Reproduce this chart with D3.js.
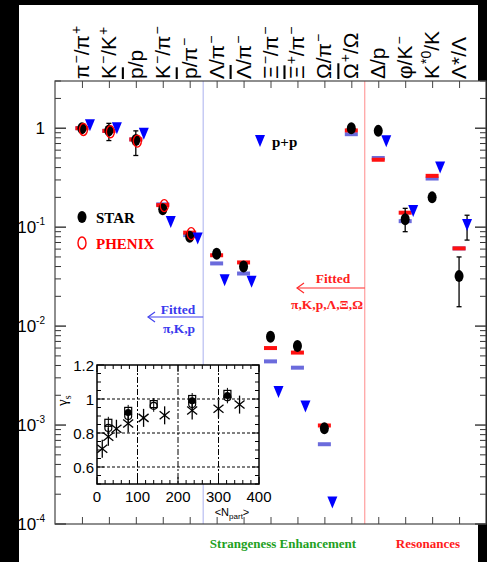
<!DOCTYPE html>
<html><head><meta charset="utf-8">
<script src="https://cdn.jsdelivr.net/npm/d3@7"></script>
<style>body{margin:0;background:#000;overflow:hidden} svg{display:block}</style>
</head><body><svg id="c" width="487" height="562"></svg>
<script>
// ---------- data ----------
const categories = ["π⁻/π⁺","K⁻/K⁺","p̄/p","K⁻/π⁻","p̄/π⁻","Λ/π⁻","Λ̄/π⁻","Ξ⁻/π⁻","Ξ̄⁺/π⁻","Ω/π⁻","Ω̄⁺/Ω","Δ/p","φ/K⁻","K*⁰/K","Λ*/Λ"];
// label pieces: [text, kind]  kind: n = normal, s = superscript, b = overlined
const labelParts = [
  [["π","n"],["−","s"],["/π","n"],["+","s"]],
  [["K","n"],["−","s"],["/K","n"],["+","s"]],
  [["p","b"],["/p","n"]],
  [["K","n"],["−","s"],["/π","n"],["−","s"]],
  [["p","b"],["/π","n"],["−","s"]],
  [["Λ","n"],["/π","n"],["−","s"]],
  [["Λ","b"],["/π","n"],["−","s"]],
  [["Ξ","n"],["−","s"],["/π","n"],["−","s"]],
  [["Ξ","b"],["+","s"],["/π","n"],["−","s"]],
  [["Ω","n"],["/π","n"],["−","s"]],
  [["Ω","b"],["+","s"],["/Ω","n"]],
  [["Δ/p","n"]],
  [["φ/K","n"],["−","s"]],
  [["K","n"],["*0","s"],["/K","n"]],
  [["Λ*/Λ","n"]]
];
const starValues  = [1.0, 0.95, 0.76, 0.152, 0.080, 0.054, 0.040, 0.0078, 0.0063, 0.00093, 1.0, 0.94, 0.12, 0.20, 0.032];
const starErrLow  = [null, 0.75, 0.53, null, null, null, null, null, null, null, null, null, 0.09, null, 0.0157];
const starErrHigh = [null, 1.12, 0.94, null, null, null, null, null, null, null, null, null, 0.155, null, 0.05];
const phenixValues = [0.97, 0.92, 0.74, 0.165, 0.086, null, null, null, null, null, null, null, null, null, null];
const fitAllValues = [1.0, 0.94, 0.77, 0.167, 0.088, 0.052, 0.044, 0.0060, 0.0054, 0.00099, 0.95, 0.48, 0.14, 0.33, 0.061];
const fitPiKpValues = [1.0, 0.94, 0.77, 0.17, 0.083, 0.043, 0.034, 0.0044, 0.0038, 0.00064, 0.87, 0.50, 0.115, 0.31, 0.061];
const ppValues    = [1.07, 1.0, 0.88, 0.113, 0.077, 0.029, 0.028, 0.00216, 0.00154, 0.000165, null, 0.74, 0.146, 0.40, 0.105];
const ppErrLow    = [null, null, null, null, null, null, null, null, null, null, null, null, null, null, 0.074];
const ppErrHigh   = [null, null, null, null, null, null, null, null, null, null, null, null, null, null, 0.132];
const yTickExps = [0, -1, -2, -3, -4];

// inset (gamma_s vs Npart)
const insetStarN = [13, 28, 48, 77, 115, 167, 235, 300, 352];
const insetStarG = [0.708, 0.778, 0.825, 0.856, 0.889, 0.904, 0.932, 0.943, 0.967];
const insetSquareN = [28, 77, 140, 235, 322];
const insetSquareG = [0.86, 0.93, 0.97, 1.0, 1.03];
const insetCircleN = [28, 77, 140, 235, 322];
const insetCircleG = [0.83, 0.90, 0.96, 0.97, 1.01];
const insetFilledN = [77, 235, 322];
const insetFilledG = [0.92, 0.99, 1.02];
const insetXTicks = [0, 100, 200, 300, 400];
const insetYTicks = [0.6, 0.8, 1.0, 1.2];

// ---------- drawing ----------
const svg = d3.select("#c");
svg.append("rect").attr("x",19).attr("y",5).attr("width",459).attr("height",557).attr("fill","#fff");

const L = 55, R = 486, T = 81, B = 524;
const x = d3.scaleLinear().domain([0, 16]).range([L, R]);
const y = d3.scaleLog().domain([1e-4, 3]).range([B, T]);
const cx = i => x(i + 1);

svg.append("rect").attr("x",L).attr("y",T).attr("width",R-L).attr("height",B-T).attr("fill","#fff");

// separators
svg.append("line").attr("x1",x(5.5)).attr("x2",x(5.5)).attr("y1",T).attr("y2",B).attr("stroke","#aab0ee").attr("stroke-width",1);
svg.append("line").attr("x1",x(11.5)).attr("x2",x(11.5)).attr("y1",T).attr("y2",B).attr("stroke","#ff8a8a").attr("stroke-width",1);

// axes
const minorTicks = [];
for (let e = -4; e <= 0; e++) for (let m = 1; m <= 9; m++) { const v = m * Math.pow(10, e); if (v <= 3) minorTicks.push(v); }
const gl = svg.append("g").attr("transform",`translate(${L},0)`)
  .call(d3.axisRight(y).tickValues(minorTicks).tickSize(0).tickFormat(""));
gl.select(".domain").remove();
minorTicks.forEach(v => {
  const major = Math.abs(Math.log10(v) - Math.round(Math.log10(v))) < 1e-9;
  gl.append("line").attr("x1",0).attr("x2",major?11:6).attr("y1",y(v)).attr("y2",y(v)).attr("stroke","#333").attr("stroke-width",major?1.4:1);
  svg.append("line").attr("x1",R).attr("x2",R-(major?11:6)).attr("y1",y(v)).attr("y2",y(v)).attr("stroke","#333").attr("stroke-width",major?1.4:1);
});
const catTicks = d3.range(1, 16);
svg.append("g").attr("transform",`translate(0,${B})`).call(d3.axisTop(x).tickValues(catTicks).tickSize(7).tickFormat(""))
  .call(g => g.select(".domain").remove()).selectAll("line").attr("stroke","#444");
svg.append("g").attr("transform",`translate(0,${T})`).call(d3.axisBottom(x).tickValues(catTicks).tickSize(7).tickFormat(""))
  .call(g => g.select(".domain").remove()).selectAll("line").attr("stroke","#444");
svg.append("rect").attr("x",L).attr("y",T).attr("width",R-L).attr("height",B-T).attr("fill","none").attr("stroke","#444").attr("stroke-width",1.2);

// y tick labels
yTickExps.forEach(e => {
  const t = svg.append("text").attr("x",45).attr("y",y(Math.pow(10,e))+6).attr("text-anchor","end")
    .attr("font-family","Liberation Sans, Arial, sans-serif").attr("font-size",17).attr("fill","#000");
  if (e === 0) t.text("1");
  else {
    t.append("tspan").text("10");
    t.append("tspan").attr("font-size",10).attr("dy",-8).text(String(e));
  }
});

// category labels (rotated)
labelParts.forEach((parts, i) => {
  const t = svg.append("text").attr("transform",`translate(${cx(i)+7},79) rotate(-90)`)
    .attr("font-family","Liberation Sans, Arial, sans-serif").attr("font-size",21).attr("fill","#000");
  parts.forEach(([s, k]) => {
    const ts = t.append("tspan").text(s);
    if (k === "s") ts.attr("font-size",14).attr("baseline-shift","55%").attr("dx",1);
    if (k === "b") ts.style("text-decoration","overline");
  });
});

// fitted bars
const barW = 13, barH = 4;
svg.append("g").selectAll("rect").data(fitPiKpValues).join("rect")
  .attr("x",(d,i)=>cx(i)-barW/2).attr("y",d=>y(d)-barH/2).attr("width",barW).attr("height",barH).attr("fill","#6b6bdc");
svg.append("g").selectAll("rect").data(fitAllValues).join("rect")
  .attr("x",(d,i)=>cx(i)-barW/2).attr("y",d=>y(d)-barH/2).attr("width",barW).attr("height",barH).attr("fill","#ff1010");

// STAR error bars + points
starValues.forEach((v,i) => {
  if (starErrLow[i] != null) {
    const g = svg.append("g").attr("stroke","#000").attr("stroke-width",1.3);
    g.append("line").attr("x1",cx(i)).attr("x2",cx(i)).attr("y1",y(starErrLow[i])).attr("y2",y(starErrHigh[i]));
    [starErrLow[i], starErrHigh[i]].forEach(e => g.append("line").attr("x1",cx(i)-2.5).attr("x2",cx(i)+2.5).attr("y1",y(e)).attr("y2",y(e)));
  }
});
svg.append("g").selectAll("ellipse").data(starValues).join("ellipse")
  .attr("cx",(d,i)=>cx(i)).attr("cy",d=>y(d)).attr("rx",4.5).attr("ry",6).attr("fill","#000");
// PHENIX
svg.append("g").selectAll("ellipse").data(phenixValues.map((v,i)=>({v,i})).filter(d=>d.v!=null)).join("ellipse")
  .attr("cx",d=>cx(d.i)+1.5).attr("cy",d=>y(d.v)).attr("rx",4).attr("ry",6).attr("fill","none").attr("stroke","#ff0000").attr("stroke-width",1.4);
// p+p triangles
const tri = (px, py) => `M${px-5},${py-6}L${px+5},${py-6}L${px},${py+6}Z`;
ppValues.forEach((v,i) => {
  if (v == null) return;
  if (ppErrLow[i] != null) {
    const g = svg.append("g").attr("stroke","#000").attr("stroke-width",1.3);
    g.append("line").attr("x1",cx(i)+8).attr("x2",cx(i)+8).attr("y1",y(ppErrLow[i])).attr("y2",y(ppErrHigh[i]));
    [ppErrLow[i], ppErrHigh[i]].forEach(e => g.append("line").attr("x1",cx(i)+5.5).attr("x2",cx(i)+10.5).attr("y1",y(e)).attr("y2",y(e)));
  }
  svg.append("path").attr("d",tri(cx(i)+8, y(v))).attr("fill","#0000ff");
});

// legend
svg.append("ellipse").attr("cx",82).attr("cy",217).attr("rx",4.5).attr("ry",6).attr("fill","#000");
svg.append("text").attr("x",96).attr("y",223).text("STAR").attr("font-family","Liberation Serif, Times New Roman, serif").attr("font-weight","bold").attr("font-size",15).attr("fill","#000");
svg.append("ellipse").attr("cx",82).attr("cy",243).attr("rx",4).attr("ry",6).attr("fill","none").attr("stroke","#ff0000").attr("stroke-width",1.4);
svg.append("text").attr("x",96).attr("y",249).text("PHENIX").attr("font-family","Liberation Serif, Times New Roman, serif").attr("font-weight","bold").attr("font-size",15).attr("fill","#ff0000");
svg.append("path").attr("d",tri(260,141)).attr("fill","#0000ff");
svg.append("text").attr("x",272).attr("y",147).text("p+p").attr("font-family","Liberation Serif, Times New Roman, serif").attr("font-weight","bold").attr("font-size",15).attr("fill","#000");

// fitted annotations
function arrow(x1, x2, yy, col) {
  const g = svg.append("g").attr("stroke",col).attr("stroke-width",1.2).attr("fill","none");
  g.append("line").attr("x1",x1).attr("x2",x2).attr("y1",yy).attr("y2",yy);
  g.append("path").attr("d",`M${x2+7},${yy-5}L${x2},${yy}L${x2+7},${yy+5}`);
}
arrow(x(5.5), 148, 317, "#4444ee");
svg.append("text").attr("x",178).attr("y",314).attr("text-anchor","middle").text("Fitted").attr("font-family","Liberation Serif, serif").attr("font-weight","bold").attr("font-size",13.5).attr("fill","#3a3aee");
svg.append("text").attr("x",179).attr("y",333).attr("text-anchor","middle").text("π,K,p").attr("font-family","Liberation Serif, serif").attr("font-weight","bold").attr("font-size",13.5).attr("fill","#3a3aee");
arrow(x(11.5), 297, 288, "#ff2a2a");
svg.append("text").attr("x",333).attr("y",283).attr("text-anchor","middle").text("Fitted").attr("font-family","Liberation Serif, serif").attr("font-weight","bold").attr("font-size",13.5).attr("fill","#ff2020");
svg.append("text").attr("x",327).attr("y",309).attr("text-anchor","middle").text("π,K,p,Λ,Ξ,Ω").attr("font-family","Liberation Serif, serif").attr("font-weight","bold").attr("font-size",13.5).attr("fill","#ff2020");

// bottom labels
svg.append("text").attr("x",283).attr("y",548).attr("text-anchor","middle").text("Strangeness Enhancement").attr("font-family","Liberation Serif, serif").attr("font-weight","bold").attr("font-size",13).attr("fill","#22a022");
svg.append("text").attr("x",428).attr("y",548).attr("text-anchor","middle").text("Resonances").attr("font-family","Liberation Serif, serif").attr("font-weight","bold").attr("font-size",13).attr("fill","#ff1a1a");

// ---------- inset ----------
const iL = 97, iR = 259, iT = 365, iB = 484;
const ix = d3.scaleLinear().domain([0, 400]).range([iL, iR]);
const iy = d3.scaleLinear().domain([0.5, 1.2]).range([iB, iT]);
svg.append("rect").attr("x",iL).attr("y",iT).attr("width",iR-iL).attr("height",iB-iT).attr("fill","#fff");
[0.6, 0.8, 1.0].forEach(v => svg.append("line").attr("x1",iL).attr("x2",iR).attr("y1",iy(v)).attr("y2",iy(v)).attr("stroke","#000").attr("stroke-width",1).attr("stroke-dasharray","3,2"));
[100, 200, 300].forEach(v => svg.append("line").attr("x1",ix(v)).attr("x2",ix(v)).attr("y1",iT).attr("y2",iB).attr("stroke","#000").attr("stroke-width",1).attr("stroke-dasharray","6,2,2,2"));
const ixMinor = d3.range(0, 401, 20), iyMinor = d3.range(0.5, 1.2001, 0.05);
ixMinor.forEach(v => { const len = v % 100 === 0 ? 7 : 4;
  svg.append("line").attr("x1",ix(v)).attr("x2",ix(v)).attr("y1",iB).attr("y2",iB-len).attr("stroke","#000");
  svg.append("line").attr("x1",ix(v)).attr("x2",ix(v)).attr("y1",iT).attr("y2",iT+len).attr("stroke","#000"); });
iyMinor.forEach(v => { const len = Math.abs(v*10 - Math.round(v*10)) < 1e-6 && Math.round(v*10)%2===0 ? 7 : 4;
  svg.append("line").attr("x1",iL).attr("x2",iL+len).attr("y1",iy(v)).attr("y2",iy(v)).attr("stroke","#000");
  svg.append("line").attr("x1",iR).attr("x2",iR-len).attr("y1",iy(v)).attr("y2",iy(v)).attr("stroke","#000"); });
svg.append("rect").attr("x",iL).attr("y",iT).attr("width",iR-iL).attr("height",iB-iT).attr("fill","none").attr("stroke","#000").attr("stroke-width",1.5);
insetYTicks.forEach(v => svg.append("text").attr("x",94).attr("y",iy(v)+5.5).attr("text-anchor","end").text(v===1?"1":d3.format(".1f")(v))
  .attr("font-family","Liberation Sans, sans-serif").attr("font-size",15).attr("fill","#000"));
insetXTicks.forEach(v => svg.append("text").attr("x",ix(v)).attr("y",502).attr("text-anchor","middle").text(v)
  .attr("font-family","Liberation Sans, sans-serif").attr("font-size",15).attr("fill","#000"));
const np = svg.append("text").attr("x",232).attr("y",516).attr("text-anchor","middle").attr("font-family","Liberation Sans, sans-serif").attr("font-size",11).attr("fill","#000");
np.append("tspan").text("<N"); np.append("tspan").attr("font-size",8).attr("dy",3).text("part"); np.append("tspan").attr("dy",-3).text(">");
const gs = svg.append("text").attr("transform","translate(67,406) rotate(-90)").attr("font-family","Liberation Serif, serif").attr("font-size",15).attr("fill","#000");
gs.append("tspan").text("γ"); gs.append("tspan").attr("font-size",10).attr("dy",4).text("s");

// inset points
insetStarN.forEach((n,i) => {
  const px = ix(n), py = iy(insetStarG[i]);
  const g = svg.append("g").attr("stroke","#000").attr("stroke-width",1.3);
  g.append("line").attr("x1",px).attr("x2",px).attr("y1",py-9).attr("y2",py+9);
  g.append("line").attr("x1",px-5).attr("x2",px+5).attr("y1",py-4).attr("y2",py+4);
  g.append("line").attr("x1",px-5).attr("x2",px+5).attr("y1",py+4).attr("y2",py-4);
});
insetSquareN.forEach((n,i) => {
  svg.append("line").attr("x1",ix(n)).attr("x2",ix(n)).attr("y1",iy(insetSquareG[i])-6).attr("y2",iy(insetCircleG[i])+6).attr("stroke","#000");
  svg.append("rect").attr("x",ix(n)-3.5).attr("y",iy(insetSquareG[i])-3.5).attr("width",7).attr("height",7).attr("fill","none").attr("stroke","#000").attr("stroke-width",1.2);
});
insetCircleN.forEach((n,i) => svg.append("circle").attr("cx",ix(n)).attr("cy",iy(insetCircleG[i])).attr("r",3.5).attr("fill","none").attr("stroke","#000").attr("stroke-width",1.2));
insetFilledN.forEach((n,i) => svg.append("circle").attr("cx",ix(n)).attr("cy",iy(insetFilledG[i])).attr("r",3.5).attr("fill","#000"));
</script></body></html>
